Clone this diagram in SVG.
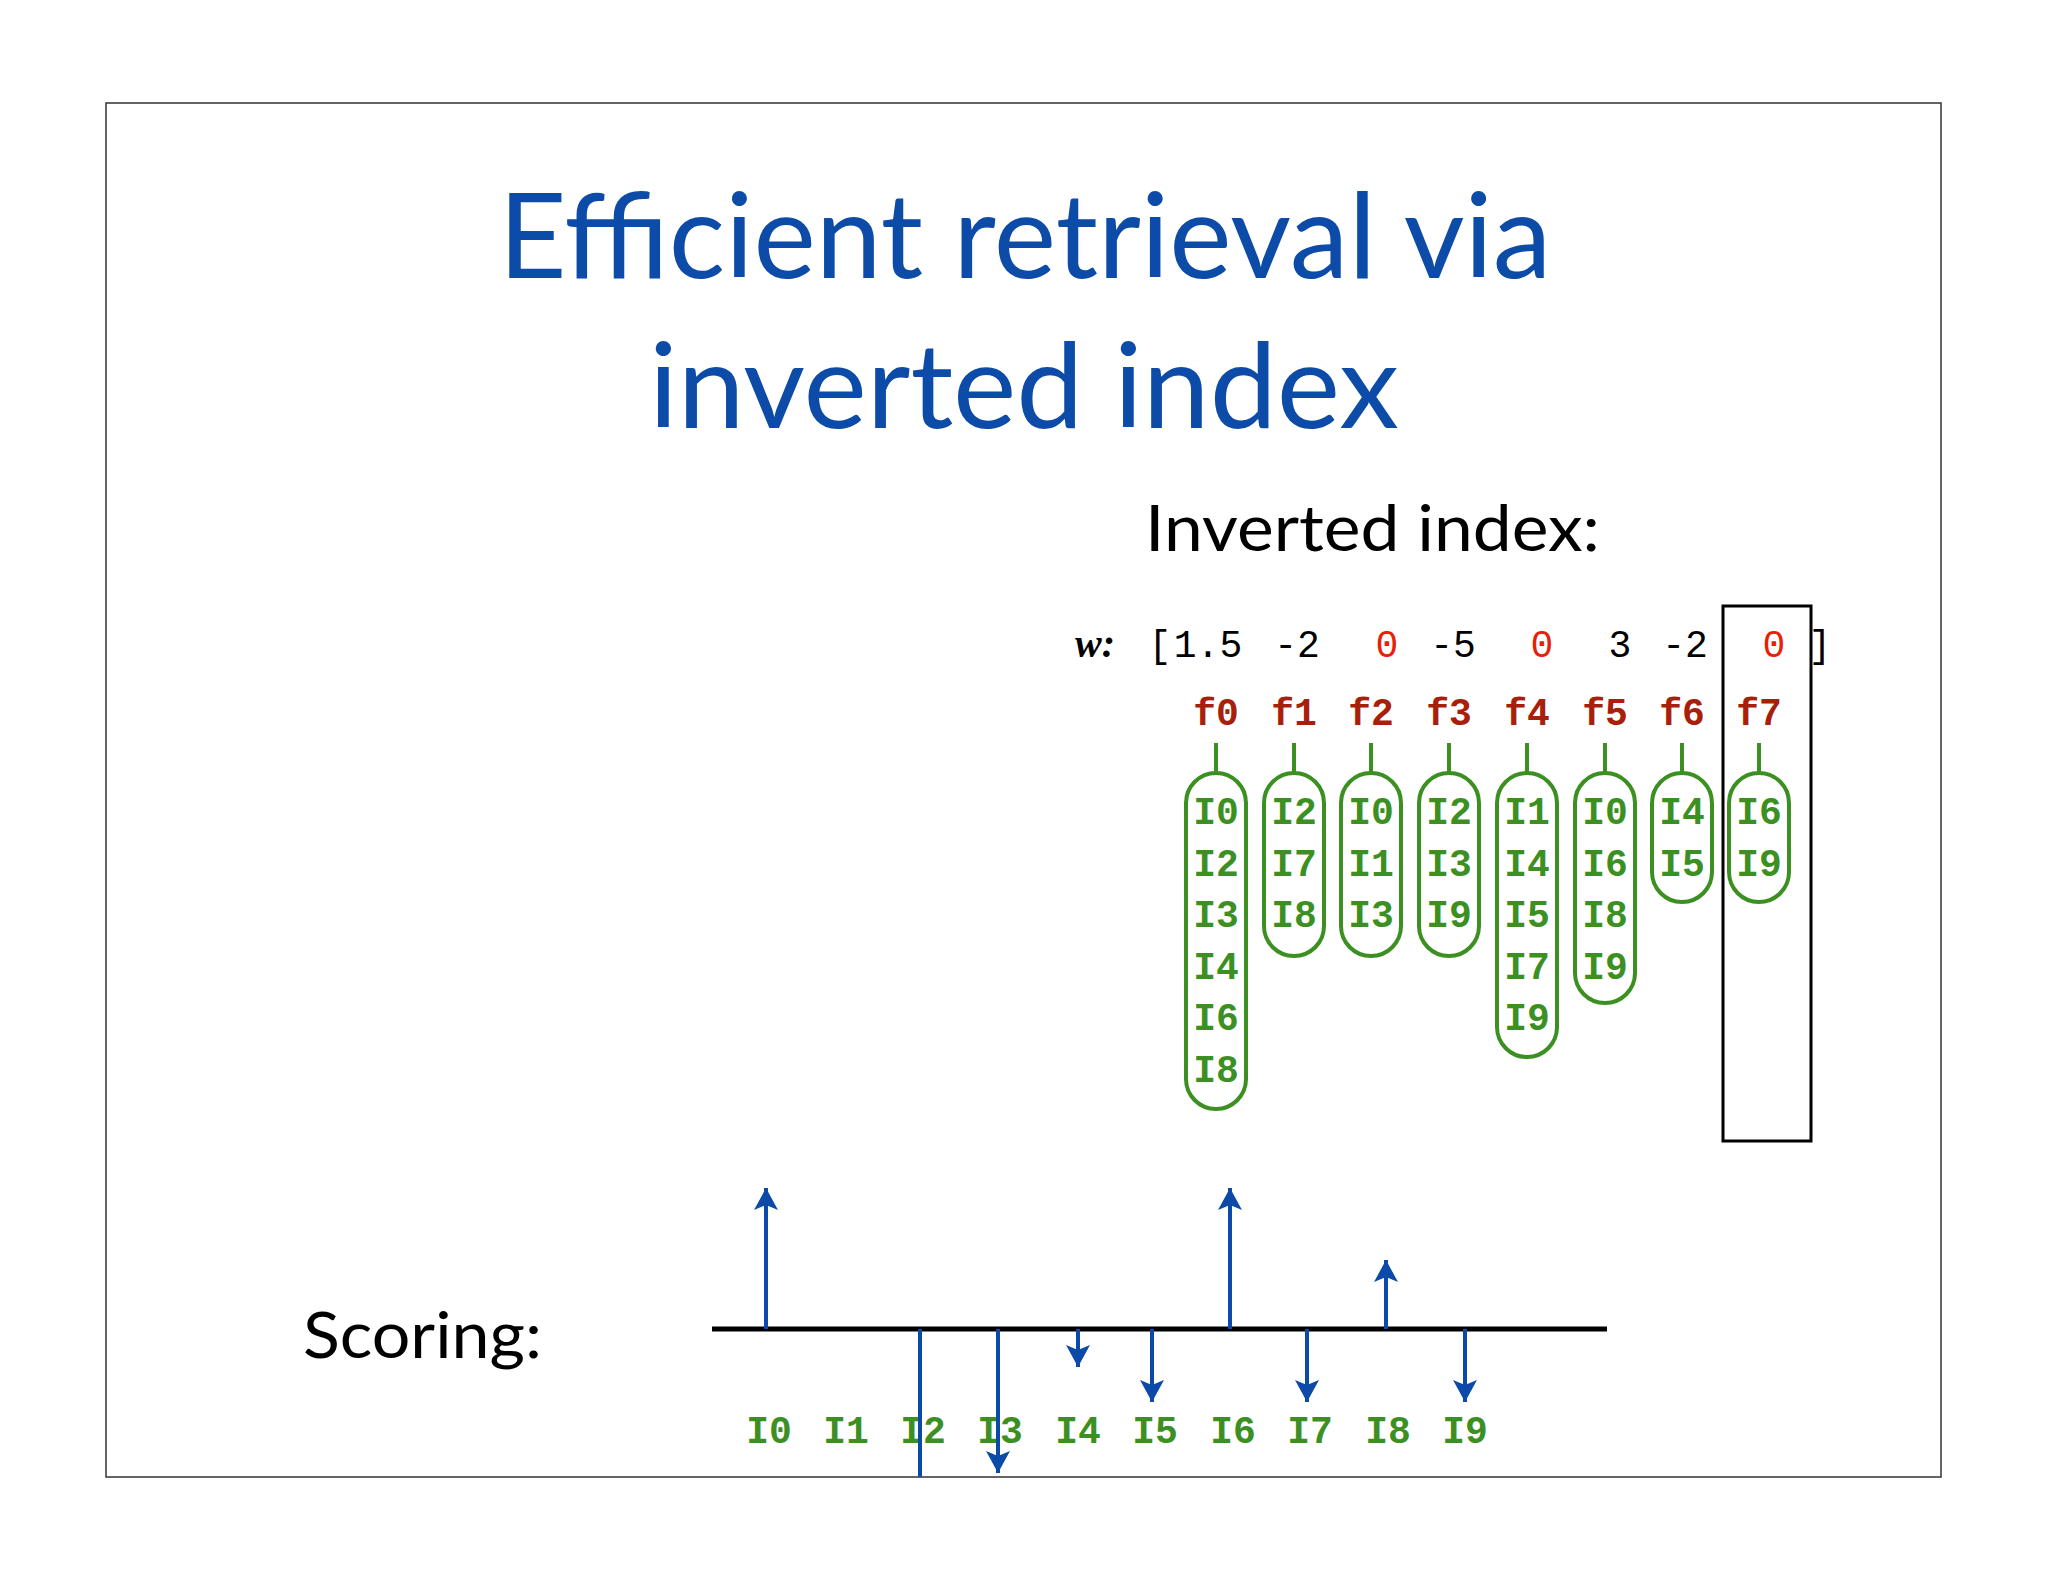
<svg xmlns="http://www.w3.org/2000/svg" width="2048" height="1582" viewBox="0 0 2048 1582">
<style>
.t{font-family:Lato,"Open Sans",sans-serif}
.m{font-family:"Liberation Mono",monospace;font-size:38px;text-anchor:middle}
.f{font-weight:bold;fill:#a8200a}
.g{font-weight:bold;fill:#3c9022}
.pill{fill:none;stroke:#3c9022;stroke-width:4}
.ar{stroke:#0b4aa8;stroke-width:4;fill:none}
</style>
<defs><marker id="ah" markerWidth="8" markerHeight="8" refX="7" refY="4" orient="auto" markerUnits="userSpaceOnUse" viewBox="0 0 8 8"><path d="M0,0 L8,4 L0,8 L2,4 Z" fill="#0b4aa8"/></marker>
<marker id="a" viewBox="0 0 22 24" markerWidth="22" markerHeight="24" refX="22" refY="12" orient="auto" markerUnits="userSpaceOnUse"><path d="M0,0 L22,12 L0,24 L5,12 Z" fill="#0b4aa8"/></marker></defs>
<rect width="2048" height="1582" fill="#fff"/>
<rect x="106" y="103" width="1835" height="1374" fill="none" stroke="#333" stroke-width="1.5"/>
<g id="title" class="t" fill="#0d4ba8" font-size="118" text-anchor="middle">
<text x="1025" y="278" textLength="1053" lengthAdjust="spacingAndGlyphs">Efficient retrieval via</text>
<text x="1024" y="428" textLength="750" lengthAdjust="spacingAndGlyphs">inverted index</text>
</g>
<text id="inv" class="t" x="1145" y="551" font-size="64" textLength="455" lengthAdjust="spacingAndGlyphs">Inverted index:</text>
<text id="scoring" class="t" x="303" y="1358" font-size="64" textLength="239" lengthAdjust="spacingAndGlyphs">Scoring:</text>
<g id="w">
<text x="1075" y="657" font-family="Liberation Serif,serif" font-style="italic" font-weight="bold" font-size="40">w:</text>
<g class="m">
<text x="1160" y="657">[</text><text x="1208" y="657">1.5</text><text x="1297" y="657">-2</text><text x="1387" y="657" fill="#e8200a">0</text><text x="1453" y="657">-5</text><text x="1542" y="657" fill="#e8200a">0</text><text x="1620" y="657">3</text><text x="1685" y="657">-2</text><text x="1774" y="657" fill="#e8200a">0</text><text x="1820" y="657">]</text>
</g></g>
<g class="m f">
<text x="1216" y="725">f0</text><text x="1294" y="725">f1</text><text x="1371" y="725">f2</text><text x="1449" y="725">f3</text><text x="1527" y="725">f4</text><text x="1605" y="725">f5</text><text x="1682" y="725">f6</text><text x="1759" y="725">f7</text>
</g>
<g id="f7box"><rect x="1723" y="606" width="88" height="535" fill="none" stroke="#000" stroke-width="3"/></g>
<g id="lists" class="m g">
<g id="l0"><line class="pill" x1="1216" y1="743" x2="1216" y2="773"/><rect class="pill" x="1186" y="773" width="60" height="336" rx="30"/><text x="1216" y="824">I0</text><text x="1216" y="876">I2</text><text x="1216" y="927">I3</text><text x="1216" y="979">I4</text><text x="1216" y="1030">I6</text><text x="1216" y="1082">I8</text></g>
<g id="l1"><line class="pill" x1="1294" y1="743" x2="1294" y2="773"/><rect class="pill" x="1264" y="773" width="60" height="183" rx="30"/><text x="1294" y="824">I2</text><text x="1294" y="876">I7</text><text x="1294" y="927">I8</text></g>
<g id="l2"><line class="pill" x1="1371" y1="743" x2="1371" y2="773"/><rect class="pill" x="1341" y="773" width="60" height="183" rx="30"/><text x="1371" y="824">I0</text><text x="1371" y="876">I1</text><text x="1371" y="927">I3</text></g>
<g id="l3"><line class="pill" x1="1449" y1="743" x2="1449" y2="773"/><rect class="pill" x="1419" y="773" width="60" height="183" rx="30"/><text x="1449" y="824">I2</text><text x="1449" y="876">I3</text><text x="1449" y="927">I9</text></g>
<g id="l4"><line class="pill" x1="1527" y1="743" x2="1527" y2="773"/><rect class="pill" x="1497" y="773" width="60" height="284" rx="30"/><text x="1527" y="824">I1</text><text x="1527" y="876">I4</text><text x="1527" y="927">I5</text><text x="1527" y="979">I7</text><text x="1527" y="1030">I9</text></g>
<g id="l5"><line class="pill" x1="1605" y1="743" x2="1605" y2="773"/><rect class="pill" x="1575" y="773" width="60" height="230" rx="30"/><text x="1605" y="824">I0</text><text x="1605" y="876">I6</text><text x="1605" y="927">I8</text><text x="1605" y="979">I9</text></g>
<g id="l6"><line class="pill" x1="1682" y1="743" x2="1682" y2="773"/><rect class="pill" x="1652" y="773" width="60" height="129" rx="30"/><text x="1682" y="824">I4</text><text x="1682" y="876">I5</text></g>
<g id="l7"><line class="pill" x1="1759" y1="743" x2="1759" y2="773"/><rect class="pill" x="1729" y="773" width="60" height="129" rx="30"/><text x="1759" y="824">I6</text><text x="1759" y="876">I9</text></g>
</g>
<g id="scorelabels" class="m g">
<text x="769" y="1443">I0</text><text x="846" y="1443">I1</text><text x="923" y="1443">I2</text><text x="1000" y="1443">I3</text><text x="1078" y="1443">I4</text><text x="1155" y="1443">I5</text><text x="1233" y="1443">I6</text><text x="1310" y="1443">I7</text><text x="1388" y="1443">I8</text><text x="1465" y="1443">I9</text>
</g>
<g id="connectors">
<line x1="712" y1="1329" x2="1607" y2="1329" stroke="#000" stroke-width="5"/>
<line class="ar" x1="766" y1="1329" x2="766" y2="1188" marker-end="url(#a)"/>
<line class="ar" x1="920" y1="1329" x2="920" y2="1477"/>
<line class="ar" x1="998" y1="1329" x2="998" y2="1473" marker-end="url(#a)"/>
<line class="ar" x1="1078" y1="1329" x2="1078" y2="1367" marker-end="url(#a)"/>
<line class="ar" x1="1152" y1="1329" x2="1152" y2="1402" marker-end="url(#a)"/>
<line class="ar" x1="1230" y1="1329" x2="1230" y2="1188" marker-end="url(#a)"/>
<line class="ar" x1="1307" y1="1329" x2="1307" y2="1402" marker-end="url(#a)"/>
<line class="ar" x1="1386" y1="1329" x2="1386" y2="1260" marker-end="url(#a)"/>
<line class="ar" x1="1465" y1="1329" x2="1465" y2="1402" marker-end="url(#a)"/>
</g>
</svg>
